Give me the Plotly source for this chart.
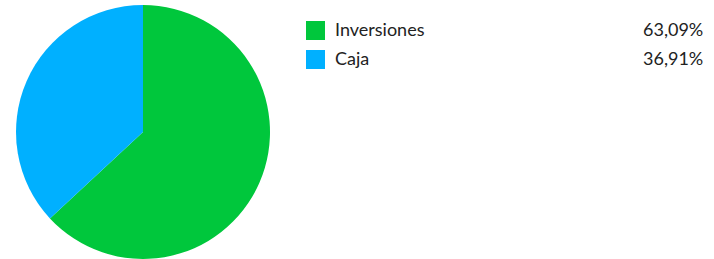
import plotly.graph_objects as go

labels = ["Inversiones", "Caja"]
values = [63.09, 36.91]
value_text = ["63,09%", "36,91%"]
colors = ["#00C73C", "#00B0FF"]

W, H = 714, 259

fig = go.Figure()
fig.add_trace(go.Pie(
    labels=labels, values=values, sort=False, direction="clockwise", rotation=0,
    marker=dict(colors=colors, line=dict(width=0)),
    textinfo="none", hoverinfo="label+percent", showlegend=False,
    domain=dict(x=[16 / W, 270 / W], y=[0, 254 / H]),
))

def px(x):
    return x / W

def py(y):
    return 1 - y / H

row_y = [30.5, 59.5]
shapes = []
annotations = []
for i, lab in enumerate(labels):
    cy = row_y[i]
    shapes.append(dict(type="rect", xref="paper", yref="paper",
                       x0=px(306), x1=px(325), y0=py(cy + 9.5), y1=py(cy - 9.5),
                       fillcolor=colors[i], line=dict(width=0)))
    annotations.append(dict(x=px(333), y=py(cy - 1.5), xref="paper", yref="paper",
                            text=lab, showarrow=False, xanchor="left", yanchor="middle",
                            font=dict(family="Lato", size=18, color="#222222")))
    annotations.append(dict(x=px(705), y=py(cy - 1.5), xref="paper", yref="paper",
                            text=value_text[i], showarrow=False, xanchor="right", yanchor="middle",
                            font=dict(family="Lato", size=18, color="#222222")))

fig.update_layout(
    width=W, height=H, margin=dict(l=0, r=0, t=0, b=0),
    paper_bgcolor="white", plot_bgcolor="white",
    shapes=shapes, annotations=annotations,
)
fig.write_html("out.html", config={"displayModeBar": False},
               post_script="document.body.style.margin='0px';document.body.style.overflow='hidden';")
